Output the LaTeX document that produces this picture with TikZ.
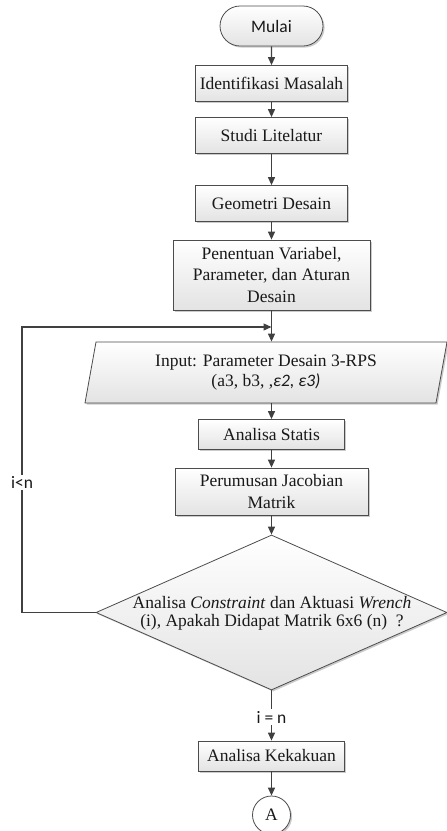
\documentclass[tikz,border=0pt]{standalone}
\usepackage{fontspec}
\setmainfont{Liberation Serif}
\newfontfamily\calib{Carlito}
\usetikzlibrary{shapes.geometric,shapes.misc,shadows,arrows.meta}

\begin{document}
\begin{tikzpicture}
  [x=1pt,y=-1pt,
   every node/.style={font=\rmfamily\fontsize{17.5}{21.5}\selectfont,align=center,text=black!90},
   box/.style={rectangle,draw=black!70,line width=.8pt,inner sep=0pt,
     top color=white,bottom color=black!11,
     drop shadow={shadow xshift=1.6pt,shadow yshift=-1.6pt,fill=black!45,opacity=.45}},
   lbl/.style={fill=white,inner sep=1.5pt,font=\calib\fontsize{17.5}{20}\selectfont},
   flow/.style={draw=black!75,line width=1.2pt,-{Triangle[length=8pt,width=7pt]}}]
  \useasboundingbox (0,0) rectangle (447,831);

  \node[box,rounded rectangle,minimum width=103pt,minimum height=40pt,
    font=\calib\fontsize{17.5}{20}\selectfont] (mulai) at (271.5,26) {Mulai};
  \node[box,minimum width=152pt,minimum height=36pt] (ident) at (271.5,83.5) {Identifikasi Masalah};
  \node[box,minimum width=152pt,minimum height=36pt] (studi) at (271.5,135.5) {Studi Litelatur};
  \node[box,minimum width=152pt,minimum height=36pt] (geom) at (271.5,203.5) {Geometri Desain};
  \node[box,minimum width=197pt,minimum height=70pt] (tentu) at (271.5,275) {Penentuan Variabel,\\Parameter, dan Aturan\\Desain};
  \node[box,trapezium,trapezium left angle=72.7,trapezium right angle=107.3,
    trapezium stretches body,minimum width=362pt,minimum height=61pt,
    font=\rmfamily\fontsize{17.5}{20}\selectfont] (input) at (266,372.5)
    {Input: Parameter Desain 3-RPS\\(a3, b3, ,{\calib\itshape ε2, ε3)}};
  \node[box,minimum width=146pt,minimum height=30pt] (statis) at (271.5,434.5) {Analisa Statis};
  \node[box,minimum width=193pt,minimum height=47pt] (jacob) at (271.5,491.5) {Perumusan Jacobian\\Matrik};
  \node[box,diamond,minimum width=351pt,minimum height=155pt] (cek) at (271.5,612.5) {};
  \node[font=\rmfamily\fontsize{17.5}{18.5}\selectfont] (cektxt) at (272,613.5)
    {Analisa \textit{Constraint} dan Aktuasi \textit{Wrench}\\(i), Apakah Didapat Matrik 6x6 (n)\ \ ?};
  \node[box,minimum width=146pt,minimum height=30pt] (akk) at (271.5,756) {Analisa Kekakuan};
  \node[box,circle,minimum size=38pt,top color=white,bottom color=white] (ca) at (271.5,815) {A};

  \coordinate (lpa) at (22,327);

  \foreach \from/\to in {mulai/ident,ident/studi,studi/geom,geom/tentu,statis/jacob,jacob/cek,akk/ca}
    \draw[flow] (\from) -- (\to);
  \draw[flow] (tentu.south) -- (tentu.south |- input.north);
  \draw[flow] (input.south -| statis) -- (statis);
  \draw[flow] (cek) -- node[lbl,pos=.53]{i = n} (akk);
  \draw[flow] (cek.west) -| node[lbl,pos=.727]{i<n} (lpa) -- (lpa -| tentu);

\end{tikzpicture}
\end{document}
